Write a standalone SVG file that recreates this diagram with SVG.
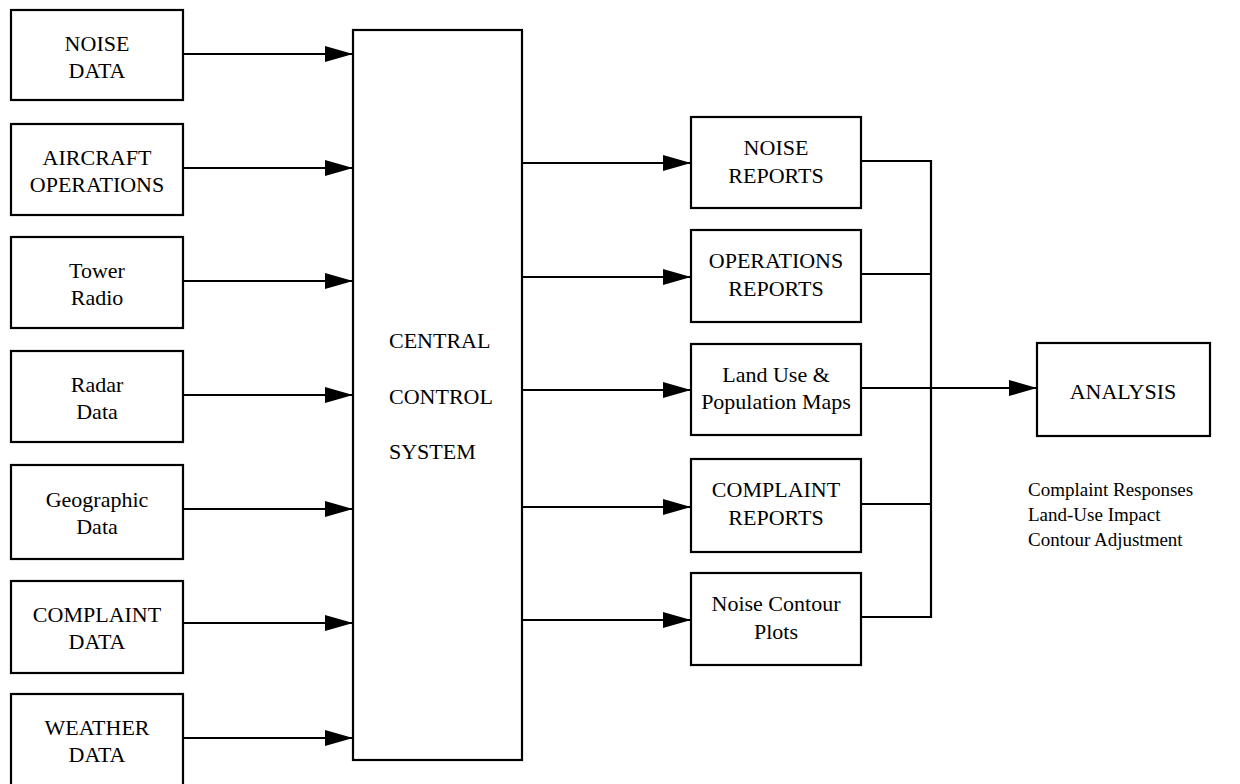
<svg xmlns="http://www.w3.org/2000/svg" width="1240" height="784" viewBox="0 0 1240 784">
<style>
.box{fill:#fff;stroke:#000;stroke-width:2.2}
.t{font-family:"Liberation Serif","Times New Roman",serif;font-size:22px;fill:#000;text-anchor:middle}
.tl{font-family:"Liberation Serif","Times New Roman",serif;font-size:22px;fill:#000}
.ann{font-family:"Liberation Serif","Times New Roman",serif;font-size:19px;fill:#000}
.ln{fill:none;stroke:#000;stroke-width:2.2}
</style>
<defs>
<marker id="ah" markerUnits="userSpaceOnUse" markerWidth="30" markerHeight="18" refX="28" refY="8" orient="auto">
<path d="M0,0 L28,8 L0,16 Z" fill="#000"/>
</marker>
</defs>
<rect width="1240" height="784" fill="#fff"/>
<g id="connectors">
<line class="ln" x1="183" y1="54" x2="353" y2="54" marker-end="url(#ah)"/>
<line class="ln" x1="183" y1="168" x2="353" y2="168" marker-end="url(#ah)"/>
<line class="ln" x1="183" y1="281" x2="353" y2="281" marker-end="url(#ah)"/>
<line class="ln" x1="183" y1="395" x2="353" y2="395" marker-end="url(#ah)"/>
<line class="ln" x1="183" y1="509" x2="353" y2="509" marker-end="url(#ah)"/>
<line class="ln" x1="183" y1="623" x2="353" y2="623" marker-end="url(#ah)"/>
<line class="ln" x1="183" y1="738" x2="353" y2="738" marker-end="url(#ah)"/>
<line class="ln" x1="522" y1="163" x2="691" y2="163" marker-end="url(#ah)"/>
<line class="ln" x1="522" y1="277" x2="691" y2="277" marker-end="url(#ah)"/>
<line class="ln" x1="522" y1="390" x2="691" y2="390" marker-end="url(#ah)"/>
<line class="ln" x1="522" y1="507" x2="691" y2="507" marker-end="url(#ah)"/>
<line class="ln" x1="522" y1="620" x2="691" y2="620" marker-end="url(#ah)"/>
<polyline class="ln" points="861,161 931,161 931,617 861,617"/>
<line class="ln" x1="861" y1="274" x2="931" y2="274"/>
<line class="ln" x1="861" y1="504" x2="931" y2="504"/>
<line class="ln" x1="861" y1="388" x2="1037" y2="388" marker-end="url(#ah)"/>
</g>
<g id="noise-data"><rect class="box" x="11" y="10" width="172" height="90"/><text class="t" x="97" y="51">NOISE</text><text class="t" x="97" y="78">DATA</text></g>
<g id="aircraft-operations"><rect class="box" x="11" y="124" width="172" height="91"/><text class="t" x="97" y="165">AIRCRAFT</text><text class="t" x="97" y="192">OPERATIONS</text></g>
<g id="tower-radio"><rect class="box" x="11" y="237" width="172" height="91"/><text class="t" x="97" y="278">Tower</text><text class="t" x="97" y="305">Radio</text></g>
<g id="radar-data"><rect class="box" x="11" y="351" width="172" height="91"/><text class="t" x="97" y="392">Radar</text><text class="t" x="97" y="419">Data</text></g>
<g id="geographic-data"><rect class="box" x="11" y="465" width="172" height="94"/><text class="t" x="97" y="507">Geographic</text><text class="t" x="97" y="534">Data</text></g>
<g id="complaint-data"><rect class="box" x="11" y="581" width="172" height="92"/><text class="t" x="97" y="622">COMPLAINT</text><text class="t" x="97" y="649">DATA</text></g>
<g id="weather-data"><rect class="box" x="11" y="694" width="172" height="100"/><text class="t" x="97" y="735">WEATHER</text><text class="t" x="97" y="762">DATA</text></g>
<g id="central-control-system"><rect class="box" x="353" y="30" width="169" height="730"/><text class="tl" x="389" y="348">CENTRAL</text><text class="tl" x="389" y="404">CONTROL</text><text class="tl" x="389" y="459">SYSTEM</text></g>
<g id="noise-reports"><rect class="box" x="691" y="117" width="170" height="91"/><text class="t" x="776" y="155">NOISE</text><text class="t" x="776" y="183">REPORTS</text></g>
<g id="operations-reports"><rect class="box" x="691" y="230" width="170" height="92"/><text class="t" x="776" y="268">OPERATIONS</text><text class="t" x="776" y="296">REPORTS</text></g>
<g id="land-use-maps"><rect class="box" x="691" y="344" width="170" height="91"/><text class="t" x="776" y="382">Land Use &amp;</text><text class="t" x="776" y="409">Population Maps</text></g>
<g id="complaint-reports"><rect class="box" x="691" y="459" width="170" height="93"/><text class="t" x="776" y="497">COMPLAINT</text><text class="t" x="776" y="525">REPORTS</text></g>
<g id="noise-contour-plots"><rect class="box" x="691" y="573" width="170" height="92"/><text class="t" x="776" y="611">Noise Contour</text><text class="t" x="776" y="639">Plots</text></g>
<g id="analysis"><rect class="box" x="1037" y="343" width="173" height="93"/><text class="t" x="1123" y="399">ANALYSIS</text></g>
<g id="analysis-notes"><text class="ann" x="1028" y="496">Complaint Responses</text><text class="ann" x="1028" y="521">Land-Use Impact</text><text class="ann" x="1028" y="546">Contour Adjustment</text></g>
</svg>
